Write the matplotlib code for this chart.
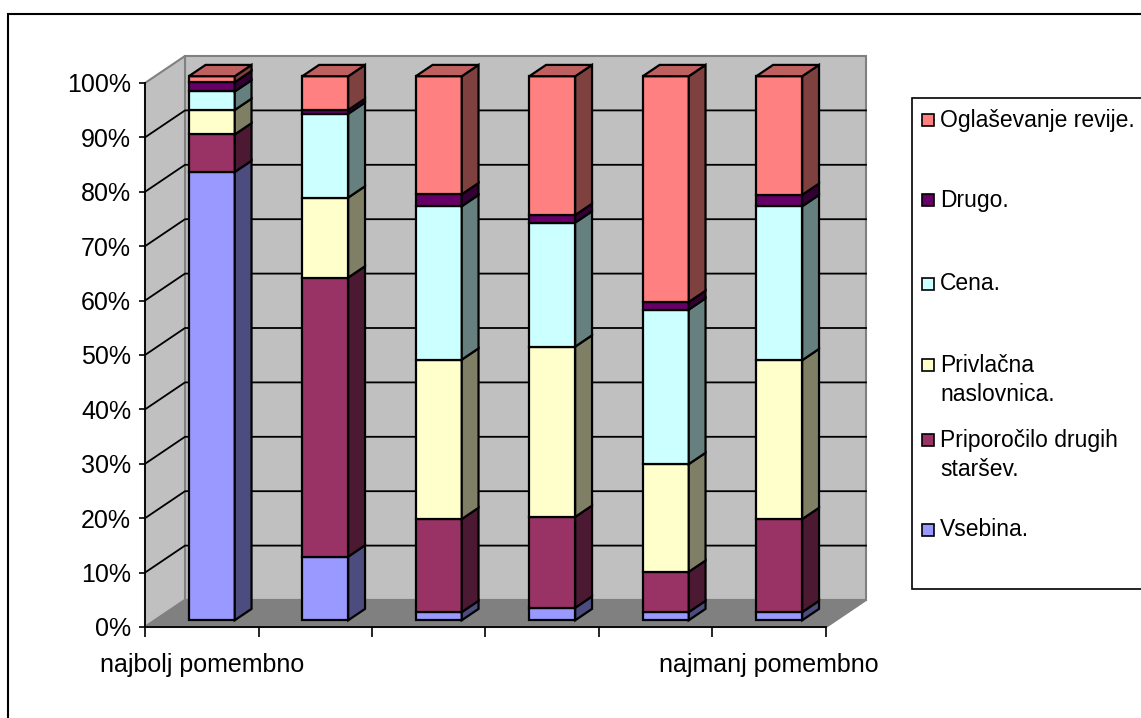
import numpy as np
import matplotlib.pyplot as plt
from matplotlib.patches import Polygon, Rectangle

plt.rcParams['font.family'] = ['Liberation Sans', 'DejaVu Sans']

categories = ['najbolj pomembno', '', '', '', '', 'najmanj pomembno']
series = ['Vsebina.', 'Priporočilo drugih\nstaršev.', 'Privlačna\nnaslovnica.',
          'Cena.', 'Drugo.', 'Oglaševanje revije.']
vsebina = [82.4, 11.7, 1.5, 2.3, 1.5, 1.5]
priporocilo = [6.9, 51.3, 17.1, 16.7, 7.4, 17.1]
privlacna = [4.5, 14.7, 29.3, 31.3, 19.8, 29.2]
cena = [3.4, 15.4, 28.2, 22.8, 28.4, 28.3]
drugo = [1.7, 0.7, 2.2, 1.4, 1.4, 2.1]
oglasevanje = [1.1, 6.2, 21.7, 25.5, 41.5, 21.8]

front = ['#9999FF', '#993366', '#FFFFCC', '#CCFFFF', '#660066', '#FF8080']
side = ['#4C4C7F', '#4C1933', '#7F7F66', '#667F7F', '#330033', '#7F4040']
top = ['#7373BF', '#73264C', '#BFBF99', '#99BFBF', '#4C004C', '#BF6060']

data = np.array([vsebina, priporocilo, privlacna, cena, drugo, oglasevanje])
pct = data / data.sum(axis=0) * 100

W_PX, H_PX = 1141, 718
fig = plt.figure(figsize=(W_PX / 100, H_PX / 100), dpi=100)

# pseudo-3d depth of the floor (in data units) and the bars' place in it
DX, DY = 40 / 113.5, 27 / 5.44
F0, FD = 0.25, 0.42
BW = 0.405

ax = fig.add_axes([145 / W_PX, 91 / H_PX, 6.5 * 113.5 / W_PX, 106 * 5.44 / H_PX])
ax.set_xlim(0, 6.5)
ax.set_ylim(0, 106)
ax.patch.set_visible(False)

ncat = len(categories)
wall_kw = dict(edgecolor='#808080', lw=1.5, zorder=0, clip_on=False)
ax.add_patch(Polygon([(DX, DY), (ncat + DX, DY), (ncat + DX, 100 + DY), (DX, 100 + DY)],
                     facecolor='#C0C0C0', **wall_kw))
ax.add_patch(Polygon([(0, 0), (DX, DY), (DX, 100 + DY), (0, 100)],
                     facecolor='#C0C0C0', **wall_kw))
ax.add_patch(Polygon([(0, 0), (ncat, 0), (ncat + DX, DY), (DX, DY)],
                     facecolor='#808080', **wall_kw))

yt = np.arange(0, 101, 10)
for v in yt[1:-1]:
    ax.plot([0, DX, ncat + DX], [v, v + DY, v + DY], color='black', lw=1.3,
            zorder=1, clip_on=False)

# stacked columns: front face, right side, and the lid on top
xc = np.arange(ncat) + 0.5 + F0 * DX
bottom = np.zeros(ncat) + F0 * DY
for k in range(len(series)):
    h = pct[k]
    ax.bar(xc, h, width=BW, bottom=bottom, color=front[k], edgecolor='black',
           lw=1.6, zorder=3, clip_on=False)
    for i in range(ncat):
        xr = xc[i] + BW / 2
        b, t = bottom[i], bottom[i] + h[i]
        ax.add_patch(Polygon([(xr, b), (xr + FD * DX, b + FD * DY),
                              (xr + FD * DX, t + FD * DY), (xr, t)],
                             facecolor=side[k], edgecolor='black', lw=1.6,
                             zorder=3, clip_on=False))
    bottom = bottom + h

for i in range(ncat):
    xl, xr, t = xc[i] - BW / 2, xc[i] + BW / 2, bottom[i]
    ax.add_patch(Polygon([(xl, t), (xr, t), (xr + FD * DX, t + FD * DY),
                          (xl + FD * DX, t + FD * DY)],
                         facecolor=top[-1], edgecolor='black', lw=1.6,
                         zorder=3, clip_on=False))

for s in ['top', 'right']:
    ax.spines[s].set_visible(False)
ax.spines['left'].set_bounds(0, 100)
ax.spines['bottom'].set_bounds(0, ncat)
for s in ['left', 'bottom']:
    ax.spines[s].set_linewidth(1.3)
    ax.spines[s].set_zorder(4)

ax.set_yticks(yt)
ax.set_yticklabels([f'{v}%' for v in yt], fontsize=18)
ax.tick_params(axis='y', length=4, width=1.2, pad=6)
ax.set_xticks(np.arange(ncat + 1))
ax.set_xticklabels([])
ax.tick_params(axis='x', which='major', length=7, width=1.2)
ax.set_xticks(np.arange(ncat) + 0.5, minor=True)
ax.set_xticklabels(categories, minor=True, fontsize=18)
ax.tick_params(axis='x', which='minor', length=0, pad=19)

# outer chart frame
fig.patches.append(Rectangle((8 / W_PX, -0.1), 1.2, 1.1 - 14 / H_PX,
                             transform=fig.transFigure, fill=False,
                             edgecolor='black', lw=1.5))

# legend box, entries listed top to bottom
fig.patches.append(Rectangle((912 / W_PX, 1 - 589 / H_PX), 0.3, (589 - 98) / H_PX,
                             transform=fig.transFigure, facecolor='white',
                             edgecolor='black', lw=1.2))
leg_y = [120, 200, 284, 380, 455, 530]
for k, y in zip(range(len(series) - 1, -1, -1), leg_y):
    first_line = y - (15 if '\n' in series[k] else 0)
    fig.patches.append(Rectangle((922 / W_PX, 1 - (first_line + 6) / H_PX),
                                 12 / W_PX, 12 / H_PX, transform=fig.transFigure,
                                 facecolor=front[k], edgecolor='black', lw=1.2))
    fig.text(940 / W_PX, 1 - y / H_PX, series[k], fontsize=16.5, va='center',
             ha='left', linespacing=1.3)

fig.savefig('out.png', dpi=100)
